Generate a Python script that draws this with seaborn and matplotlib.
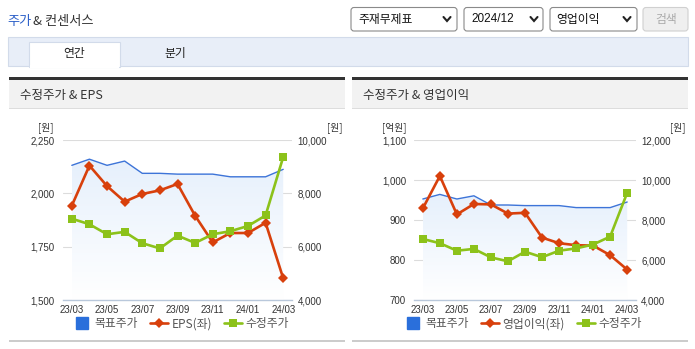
import numpy as np
import pandas as pd
import matplotlib
matplotlib.use("Agg")
import matplotlib.pyplot as plt
import seaborn as sns
from matplotlib.patches import Rectangle, FancyBboxPatch
from matplotlib.lines import Line2D
from matplotlib.transforms import Affine2D
from matplotlib.colors import LinearSegmentedColormap
from matplotlib.font_manager import FontProperties, fontManager

# ---------------- data ----------------
months = ["23/03", "23/04", "23/05", "23/06", "23/07", "23/08", "23/09",
          "23/10", "23/11", "23/12", "24/01", "24/02", "24/03"]
tick_labels = ["23/03", "23/05", "23/07", "23/09", "23/11", "24/01", "24/03"]
target_price = [9050, 9280, 9050, 9210, 8750, 8750, 8720, 8720, 8720, 8620, 8620, 8620, 8900]
adj_price = [7050, 6840, 6465, 6555, 6130, 5935, 6415, 6140, 6465, 6580, 6775, 7170, 9360]
eps = [1942, 2130, 2034, 1961, 1997, 2014, 2044, 1895, 1770, 1814, 1814, 1862, 1602]
op_income = [929, 1010, 914, 940, 939, 916, 918, 856, 842, 837, 836, 812, 776]

eps_ticks = [1500, 1750, 2000, 2250]
eps_price_ticks = [4000, 6000, 8000, 10000]
op_ticks = [700, 800, 900, 1000, 1100]
op_price_ticks = [4000, 6000, 8000, 10000, 12000]

# ---------------- style ----------------
sns.set_style("white")
plt.rcParams["font.family"] = ["Noto Sans CJK KR", "DejaVu Sans"]
names = {f.name for f in fontManager.ttflist}
NUM_FONT = "Liberation Sans Narrow" if "Liberation Sans Narrow" in names else "Liberation Sans"

BLUE = "#3d74d8"
BLUE_SQ = "#2a6fdb"
RED = "#d8400c"
GREEN = "#8cc21a"
AXC = "#b9c8db"
TXT = "#333333"

W, H = 695, 349
fig = plt.figure(figsize=(W / 100, H / 100), dpi=100)
fig.patch.set_facecolor("white")
T = Affine2D().scale(1 / 100, -1 / 100).translate(0, H / 100) + fig.dpi_scale_trans


def rect(x0, y0, x1, y1, **kw):
    fig.add_artist(Rectangle((x0, y0), x1 - x0, y1 - y0, transform=T, **kw))


def rbox(x0, y0, x1, y1, **kw):
    fig.add_artist(FancyBboxPatch((x0, y0), x1 - x0, y1 - y0,
                                  boxstyle="round,pad=0,rounding_size=3",
                                  transform=T, **kw))


def txt(x, y, s, **kw):
    kw.setdefault("va", "center")
    fig.text(x, y, s, transform=T, **kw)


def chevron(x, y):
    fig.add_artist(Line2D([x - 3.5, x, x + 3.5], [y - 2, y + 2, y - 2],
                          transform=T, color="#222", lw=1.5,
                          solid_capstyle="round", solid_joinstyle="miter"))


# ---------------- header ----------------
txt(7, 22, "주가", color="#2b5fc8", fontsize=9.5)
txt(33, 22, "& 컨센서스", color="#333", fontsize=9.5)

rbox(351, 7.5, 457, 31, fc="white", ec="#8a8a8a", lw=0.8)
txt(358, 19, "주재무제표", fontsize=8.5, color="#111")
chevron(447, 19)
rbox(464, 7.5, 543, 31, fc="white", ec="#8a8a8a", lw=0.8)
txt(471, 19, "2024/12", fontsize=8.5, color="#111", family=[NUM_FONT, "DejaVu Sans"])
chevron(534, 19)
rbox(550, 7.5, 637, 31, fc="white", ec="#8a8a8a", lw=0.8)
txt(556, 19, "영업이익", fontsize=8.5, color="#111")
chevron(627, 19)
rbox(643, 7.5, 688, 31, fc="#efefef", ec="#d0d0d0", lw=0.8)
txt(666, 19, "검색", fontsize=8.5, color="#aaaaaa", ha="center")

# tab bar
rect(8, 37, 688, 66, fc="#e8eef8", ec="#d2dbea", lw=0.8)
rect(29, 42, 120, 67, fc="white", ec="#d2dbea", lw=0.8)
rect(29.6, 64.5, 119.4, 67.5, fc="white", ec="none")
txt(74, 54, "연간", fontsize=8.5, color="#222", ha="center")
txt(175, 54, "분기", fontsize=8.5, color="#222", ha="center")

# panels
for (px0, px1, title) in [(9, 345, "수정주가 & EPS"), (352, 688, "수정주가 & 영업이익")]:
    rect(px0, 77, px1, 79.5, fc="#333333", ec="none")
    rect(px0, 79.5, px1, 108, fc="#f2f2f2", ec="none")
    rect(px0, 108, px1, 109.3, fc="#dddddd", ec="none")
    rect(px0, 339.5, px1, 342, fc="#cccccc", ec="none")
    txt(px0 + 11, 95, title, fontsize=9, color="#333")

grad_cmap = LinearSegmentedColormap.from_list("g", ["#ffffff", "#e6f0fc"])
x = np.arange(len(months))


def draw_chart(ax_x0, ax_x1, left_vals, left_ticks, right_ticks, left_label,
               left_unit, lunit_x, runit_x, legend_cx):
    ax = fig.add_axes([ax_x0 / W, (H - 300) / H, (ax_x1 - ax_x0) / W, 160 / H])
    ax.set_facecolor("none")
    axl = ax.twinx()
    axg = ax.twinx()

    # target price with gradient area (right scale)
    poly = ax.fill_between(x, target_price, right_ticks[0], color="none", lw=0)
    grad = np.linspace(0, 1, 256).reshape(-1, 1)
    im = ax.imshow(grad, extent=[0, 12, right_ticks[0], max(target_price)],
                   origin="lower", aspect="auto", cmap=grad_cmap, zorder=1)
    im.set_clip_path(poly.get_paths()[0], transform=ax.transData)
    sns.lineplot(x=x, y=target_price, ax=ax, color=BLUE, linewidth=1.0, zorder=3)

    # left-scale series
    sns.lineplot(x=x, y=left_vals, ax=axl, color=RED, linewidth=1.9, marker="D",
                 markersize=5.3, markeredgewidth=0)
    # adjusted price on top (right scale)
    sns.lineplot(x=x, y=adj_price, ax=axg, color=GREEN, linewidth=1.9, marker="s",
                 markersize=6.2, markeredgewidth=0)

    for a in (ax, axl, axg):
        a.set_xlim(-0.5, 12.5)
        a.set_xlabel("")
        a.set_ylabel("")
        for s in a.spines.values():
            s.set_visible(False)

    ax.set_ylim(right_ticks[0], right_ticks[-1])
    axg.set_ylim(right_ticks[0], right_ticks[-1])
    axl.set_ylim(left_ticks[0], left_ticks[-1])

    ax.set_yticks(right_ticks)
    ax.set_yticklabels([f"{v:,}" for v in right_ticks])
    ax.yaxis.tick_right()
    ax.yaxis.set_label_position("right")
    ax.grid(axis="y", color="#dcdcdc", lw=0.8)
    ax.grid(axis="x", visible=False)
    ax.set_axisbelow(True)
    ax.spines["bottom"].set_visible(True)
    ax.spines["bottom"].set_color(AXC)
    ax.spines["bottom"].set_linewidth(1.0)
    ax.tick_params(axis="y", length=0, pad=4, labelsize=7, labelcolor=TXT)
    ax.set_xticks(range(0, 13, 2))
    ax.set_xticklabels(tick_labels)
    ax.set_xticks(np.arange(-0.5, 13, 1)[[0, 1, 3, 5, 7, 9, 11, 13]], minor=True)
    ax.tick_params(axis="x", which="major", length=0, pad=3.5, labelsize=7, labelcolor=TXT)
    ax.tick_params(axis="x", which="minor", length=4, width=0.9, color=AXC, direction="out")

    axl.set_yticks(left_ticks)
    axl.set_yticklabels([f"{v:,}" for v in left_ticks])
    axl.yaxis.tick_left()
    axl.tick_params(axis="y", length=0, pad=6, labelsize=7, labelcolor=TXT)
    axl.tick_params(axis="x", bottom=False, labelbottom=False)

    axg.set_yticks([])
    axg.tick_params(axis="y", left=False, right=False, labelleft=False, labelright=False)
    axg.tick_params(axis="x", bottom=False, labelbottom=False)

    for lab in ax.get_xticklabels() + ax.get_yticklabels() + axl.get_yticklabels():
        lab.set_fontfamily(NUM_FONT)

    txt(lunit_x, 128, left_unit, fontsize=7, color=TXT, ha="center")
    txt(runit_x, 128, "[원]", fontsize=7, color=TXT, ha="center")

    handles = [Line2D([], [], marker="s", linestyle="none", color=BLUE_SQ, markersize=8),
               Line2D([], [], color=RED, lw=1.9, marker="D", markersize=5, markeredgewidth=0),
               Line2D([], [], color=GREEN, lw=1.9, marker="s", markersize=5.5, markeredgewidth=0)]
    fig.legend(handles, ["목표주가", left_label, "수정주가"], loc="center",
               bbox_to_anchor=(legend_cx / W, 1 - 324 / H), bbox_transform=fig.transFigure,
               ncol=3, frameon=False,
               prop=FontProperties(family=["Noto Sans CJK KR", "DejaVu Sans"], size=8.5),
               labelcolor="#555555", handlelength=1.5, handletextpad=0.35,
               columnspacing=1.0, borderpad=0)


draw_chart(63, 292, eps, eps_ticks, eps_price_ticks, "EPS(좌)", "[원]", 46, 335, 181)
draw_chart(414.3, 635.7, op_income, op_ticks, op_price_ticks, "영업이익(좌)", "[억원]", 394, 678, 523)

fig.savefig("out.png", dpi=100, facecolor="white")
